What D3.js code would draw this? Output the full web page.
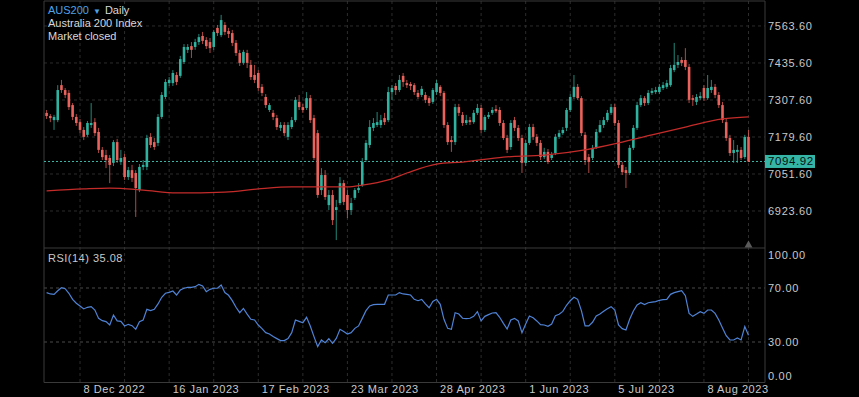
<!DOCTYPE html>
<html>
<head>
<meta charset="utf-8">
<script src="https://cdn.jsdelivr.net/npm/d3@7"></script>
<style>
  body { margin: 0; background: #000; }
  svg { display: block; font-family: "Liberation Sans", Arial, sans-serif; }
</style>
</head>
<body>
<div id="chart"></div>
<script>
// AUS200 daily candles, one entry per trading day
const open = [7263,7252,7238,7238,7359,7342,7332,7290,7249,7231,
  7204,7187,7221,7231,7197,7135,7117,7107,7090,7162,
  7093,7110,7041,7065,7055,6996,7076,7076,7180,7162,
  7159,7249,7318,7366,7366,7394,7391,7439,7481,7494,
  7491,7508,7529,7515,7508,7491,7557,7532,7567,7546,
  7539,7505,7470,7436,7470,7429,7394,7401,7353,7318,
  7273,7263,7245,7211,7221,7180,7214,7238,7301,7283,
  7280,7314,7245,7193,6996,7048,6944,6979,6927,6951,
  7020,6979,6927,6969,6996,7013,7100,7152,7211,7221,
  7221,7245,7238,7335,7356,7342,7391,7366,7363,7359,
  7332,7325,7325,7314,7301,7335,7353,7332,7221,7169,
  7162,7283,7256,7228,7238,7231,7263,7280,7204,7249,
  7263,7276,7273,7228,7176,7145,7238,7211,7176,7090,
  7159,7214,7180,7159,7110,7128,7107,7124,7180,7193,
  7211,7273,7318,7353,7314,7187,7110,7107,7145,7197,
  7221,7238,7263,7283,7228,7083,7065,7055,7142,7211,
  7290,7314,7297,7332,7335,7335,7349,7353,7359,7411,
  7429,7446,7446,7422,7314,7301,7314,7349,7314,7342,
  7353,7325,7290,7231,7176,7124,7128,7135,7110,7180];
const high = [7273,7259,7256,7359,7377,7349,7342,7297,7259,7242,
  7214,7235,7297,7245,7211,7145,7135,7117,7169,7173,
  7135,7121,7076,7083,7065,7086,7100,7187,7193,7176,
  7259,7335,7380,7387,7411,7404,7460,7501,7501,7508,
  7519,7536,7543,7525,7522,7550,7567,7602,7577,7557,
  7550,7515,7481,7481,7481,7446,7429,7411,7363,7328,
  7297,7273,7256,7231,7231,7231,7249,7318,7325,7294,
  7335,7325,7256,7204,7072,7065,6996,6996,6962,7041,
  7031,6996,6969,7003,7020,7107,7169,7238,7245,7266,
  7256,7263,7353,7359,7366,7394,7401,7377,7370,7366,
  7342,7356,7335,7321,7349,7377,7359,7339,7231,7183,
  7294,7294,7266,7256,7249,7273,7294,7290,7256,7266,
  7283,7290,7283,7238,7187,7238,7249,7221,7187,7169,
  7225,7225,7190,7169,7142,7138,7128,7190,7204,7214,
  7280,7328,7394,7363,7321,7197,7121,7152,7207,7238,
  7249,7273,7294,7294,7238,7093,7076,7152,7221,7301,
  7325,7321,7342,7349,7353,7363,7370,7377,7429,7505,
  7463,7456,7487,7432,7325,7328,7335,7359,7394,7377,
  7363,7335,7301,7242,7187,7169,7152,7145,7187,7204];
const low = [7242,7231,7204,7231,7332,7314,7273,7238,7218,7193,
  7169,7180,7211,7183,7124,7100,7072,7020,7079,7090,
  7083,7031,7031,7024,6903,6989,7065,7065,7142,7135,
  7148,7242,7311,7356,7356,7359,7384,7432,7470,7453,
  7481,7498,7501,7484,7470,7481,7529,7525,7532,7522,
  7494,7460,7425,7429,7418,7377,7366,7339,7321,7280,
  7266,7238,7204,7200,7183,7169,7207,7231,7273,7263,
  7273,7228,7100,6969,6979,6962,6927,6875,6823,6944,
  6944,6899,6910,6962,6986,7007,7093,7142,7200,7214,
  7211,7221,7231,7308,7325,7335,7353,7349,7342,7325,
  7311,7318,7297,7287,7294,7325,7321,7211,7152,7128,
  7152,7252,7218,7221,7221,7225,7256,7193,7197,7242,
  7256,7263,7218,7169,7124,7135,7200,7166,7055,7079,
  7152,7169,7148,7100,7103,7086,7100,7117,7173,7187,
  7200,7266,7311,7308,7183,7083,7055,7100,7138,7193,
  7211,7231,7256,7218,7072,7048,7003,7048,7135,7204,
  7283,7287,7290,7325,7328,7328,7342,7346,7353,7404,
  7418,7425,7411,7297,7287,7290,7308,7304,7308,7332,
  7314,7280,7228,7166,7114,7090,7090,7100,7103,7093];
const close = [7252,7245,7249,7342,7342,7325,7283,7249,7228,7204,
  7180,7228,7228,7193,7135,7110,7100,7083,7162,7100,
  7107,7041,7065,7038,7003,7076,7083,7176,7152,7145,
  7249,7325,7370,7377,7401,7370,7449,7491,7491,7481,
  7508,7525,7512,7494,7487,7543,7539,7584,7543,7536,
  7505,7470,7436,7474,7436,7387,7377,7349,7332,7290,
  7290,7249,7214,7221,7193,7221,7238,7308,7283,7273,
  7314,7238,7107,6979,7048,6972,6979,6892,6937,7020,
  6955,6927,6951,6996,7003,7093,7159,7214,7228,7231,
  7238,7231,7335,7349,7342,7377,7370,7359,7356,7335,
  7318,7346,7308,7297,7342,7366,7332,7221,7162,7162,
  7283,7263,7228,7238,7231,7263,7280,7204,7249,7256,
  7273,7269,7228,7176,7135,7228,7211,7176,7090,7159,
  7214,7180,7159,7110,7128,7093,7117,7180,7193,7204,
  7273,7318,7353,7314,7193,7100,7093,7142,7197,7221,
  7238,7263,7283,7228,7083,7058,7055,7142,7211,7290,
  7314,7297,7332,7339,7342,7353,7359,7366,7418,7429,
  7439,7436,7422,7308,7308,7318,7321,7314,7349,7353,
  7325,7290,7238,7176,7124,7135,7135,7107,7180,7094.92];

// moving average (bar index, value)
const maIdx = [0,10,17,26,35,48,57,66,75,81,85,92,97,105,112,123,134,145,154,163,172,182,189];
const maVal = [6993,7000,7003,6996,6986,6989,7000,7007,7007,7007,7013,7031,7055,7086,7093,7110,7117,7135,7159,7187,7214,7242,7249];

// RSI(14)
const rsi = [66.6,65.6,65.3,68.0,70.2,69.5,66.1,61.6,58.7,56.7,
  54.5,55.7,56.2,53.7,47.5,45.8,45.1,42.6,50.0,45.6,
  45.3,41.9,43.1,42.1,39.4,45.1,46.3,54.2,53.2,54.2,
  58.2,63.1,66.1,66.8,67.8,64.8,68.5,69.8,70.5,70.5,
  71.0,72.7,71.5,67.3,69.0,69.8,69.8,72.2,66.6,64.6,
  60.6,55.7,51.7,54.9,50.7,46.8,46.3,42.6,39.9,36.9,
  35.9,34.0,32.5,31.0,31.0,32.5,36.9,46.3,45.3,44.3,
  48.3,41.9,34.0,26.6,31.5,29.5,32.5,29.0,32.7,39.4,
  37.7,35.9,36.9,40.1,41.9,47.5,53.2,56.7,57.7,57.9,
  57.9,57.9,64.8,64.8,64.8,66.6,65.6,65.3,64.8,61.6,
  60.6,61.6,58.2,55.4,60.1,61.6,57.9,46.8,40.1,39.4,
  51.7,50.7,47.6,47.3,47.6,49.0,52.5,45.6,49.0,50.3,
  51.5,51.7,48.3,43.8,39.6,46.3,47.5,45.6,36.9,43.3,
  49.3,48.0,45.6,42.8,42.6,41.6,43.3,49.5,50.5,52.7,
  57.2,60.6,63.1,61.6,53.2,41.9,41.9,44.6,49.3,50.7,
  52.7,54.7,56.2,53.7,42.6,39.9,38.9,46.8,53.0,57.4,
  59.1,57.7,59.1,59.6,59.9,60.9,61.4,61.6,65.3,66.6,
  67.3,68.0,64.3,51.2,49.0,50.7,52.5,51.2,53.7,53.7,
  51.2,46.3,40.4,34.7,31.5,31.5,33.0,31.5,41.4,35.08];

const dateLabels = ["8 Dec 2022","16 Jan 2023","17 Feb 2023","23 Mar 2023","28 Apr 2023","1 Jun 2023","5 Jul 2023","8 Aug 2023"];
const dateIdx = [9,33,57,81,105,129,153,177];
const priceTicks = [6923.6,7051.6,7179.6,7307.6,7435.6,7563.6];
const rsiTicks = [0,30,70,100];
const rsiLevels = [30,70];
const lastPrice = 7094.92;

const W = 859, H = 397;
const L = 44, R = 765, T = 1, mainB = 248, rsiB = 382.5;
const UP = "#2fb3a0", DOWN = "#e9625b";

const svg = d3.select("#chart").append("svg")
  .attr("width", W).attr("height", H)
  .style("background", "#000");

const n = close.length;
const x = d3.scaleLinear().domain([0, n - 1]).range([46.6, 748.5]);
const y = d3.scaleLinear().domain([6795.6, 7650]).range([mainB, T]);
const yR = d3.scaleLinear().domain([0, 100]).range([rsiB, mainB - 0.5]);
const bw = (x(1) - x(0)) * 0.7;

// grid
const gridIdx = d3.range(9, n, 12);
const grid = svg.append("g").attr("stroke", "#2c2c2c").attr("stroke-dasharray", "3,3");
grid.selectAll(".vg").data(gridIdx).join("line")
  .attr("x1", d => x(d)).attr("x2", d => x(d))
  .attr("y1", T).attr("y2", rsiB);
grid.selectAll(".hg").data(priceTicks).join("line")
  .attr("x1", L).attr("x2", R)
  .attr("y1", d => y(d)).attr("y2", d => y(d));
svg.append("g").attr("stroke", "#4a4a4a").attr("stroke-dasharray", "3,3")
  .selectAll("line").data(rsiLevels).join("line")
  .attr("x1", L).attr("x2", R)
  .attr("y1", d => yR(d)).attr("y2", d => yR(d));

// frame
const frame = svg.append("g").attr("stroke", "#3a3a3a").attr("fill", "none");
frame.append("line").attr("x1", L).attr("x2", R).attr("y1", T).attr("y2", T);
frame.append("line").attr("x1", L).attr("x2", R).attr("y1", mainB).attr("y2", mainB);
frame.append("line").attr("x1", L).attr("x2", R).attr("y1", rsiB).attr("y2", rsiB);
frame.append("line").attr("x1", L).attr("x2", L).attr("y1", T).attr("y2", rsiB);
frame.append("line").attr("x1", R).attr("x2", R).attr("y1", T).attr("y2", rsiB);

// current price line
svg.append("line")
  .attr("x1", L).attr("x2", R)
  .attr("y1", y(lastPrice)).attr("y2", y(lastPrice))
  .attr("stroke", "#3fb8a8").attr("stroke-dasharray", "2,2");

// candles
const idx = d3.range(n);
const candles = svg.append("g");
candles.selectAll("line").data(idx).join("line")
  .attr("x1", i => x(i)).attr("x2", i => x(i))
  .attr("y1", i => y(high[i])).attr("y2", i => y(low[i]))
  .attr("stroke", i => close[i] >= open[i] ? UP : DOWN)
  .attr("stroke-opacity", 0.75);
candles.selectAll("rect").data(idx).join("rect")
  .attr("x", i => x(i) - bw / 2)
  .attr("width", bw)
  .attr("y", i => y(Math.max(open[i], close[i])))
  .attr("height", i => Math.max(1, Math.abs(y(open[i]) - y(close[i]))))
  .attr("fill", i => close[i] >= open[i] ? UP : DOWN);

// moving average
svg.append("path")
  .datum(maIdx.map((d, k) => [d, maVal[k]]))
  .attr("fill", "none").attr("stroke", "#c42c2a").attr("stroke-width", 1.3)
  .attr("d", d3.line().x(d => x(d[0])).y(d => y(d[1])).curve(d3.curveMonotoneX));

// rsi line
svg.append("path")
  .datum(rsi)
  .attr("fill", "none").attr("stroke", "#4f83d6").attr("stroke-width", 1.2)
  .attr("d", d3.line().x((d, i) => x(i)).y(d => yR(d)));

// price axis
const pAxis = svg.append("g").attr("transform", `translate(${R},0)`)
  .call(d3.axisRight(y).tickValues(priceTicks).tickSize(0).tickPadding(3).tickFormat(d3.format(".2f")));
pAxis.select(".domain").remove();
pAxis.selectAll("text").attr("fill", "#c9c9c9").style("font-size", "11px")
  .style("letter-spacing", "0.7px").attr("dy", "0.36em");

// rsi axis
const rAxis = svg.append("g").attr("transform", `translate(${R},0)`)
  .call(d3.axisRight(yR).tickValues(rsiTicks).tickSize(0).tickPadding(3).tickFormat(d3.format(".2f")));
rAxis.select(".domain").remove();
rAxis.selectAll("text").attr("fill", "#c9c9c9").style("font-size", "11px")
  .style("letter-spacing", "0.7px")
  .attr("dy", d => d === 100 ? "1.0em" : d === 0 ? "-0.3em" : "0.36em");

// date axis
const dAxis = svg.append("g").attr("transform", `translate(0,${rsiB})`)
  .call(d3.axisBottom(x).tickValues(dateIdx).tickSize(0).tickPadding(3)
    .tickFormat((d, k) => dateLabels[k]));
dAxis.select(".domain").remove();
dAxis.selectAll("text").attr("fill", "#c9c9c9").style("font-size", "11px")
  .style("letter-spacing", "0.55px").attr("text-anchor", "start").attr("dx", 3);

// last price tag
const tagY = y(lastPrice);
svg.append("rect").attr("x", R).attr("y", tagY - 6.5).attr("width", 50).attr("height", 13)
  .attr("fill", "#35b5a5");
svg.append("text").attr("x", R + 3).attr("y", tagY + 4)
  .attr("fill", "#061311").style("font-size", "11.5px").style("letter-spacing", "0.6px")
  .text(d3.format(".2f")(lastPrice));

// marker triangle at last bar
const tx = x(n - 1);
svg.append("path")
  .attr("d", `M${tx - 4},${mainB - 0.5} L${tx},${mainB - 7.5} L${tx + 4},${mainB - 0.5} Z`)
  .attr("fill", "#5a5a5a");

// titles
const title = svg.append("text").attr("x", 48).attr("y", 14).style("font-size", "11px");
title.append("tspan").attr("fill", "#4ea3e6").text("AUS200");
title.append("tspan").attr("fill", "#4ea3e6").attr("dx", 4).style("font-size", "8px").text("▼");
title.append("tspan").attr("fill", "#d8d8d8").attr("dx", 4).text("Daily");
svg.append("text").attr("x", 48).attr("y", 27).attr("fill", "#d8d8d8")
  .style("font-size", "11px").text("Australia 200 Index");
svg.append("text").attr("x", 48).attr("y", 40).attr("fill", "#d8d8d8")
  .style("font-size", "11px").text("Market closed");
svg.append("text").attr("x", 48).attr("y", 261.5).attr("fill", "#c9c9c9")
  .style("font-size", "11px").style("letter-spacing", "0.5px")
  .text("RSI(14) " + d3.format(".2f")(rsi[n - 1]));
</script>
</body>
</html>
